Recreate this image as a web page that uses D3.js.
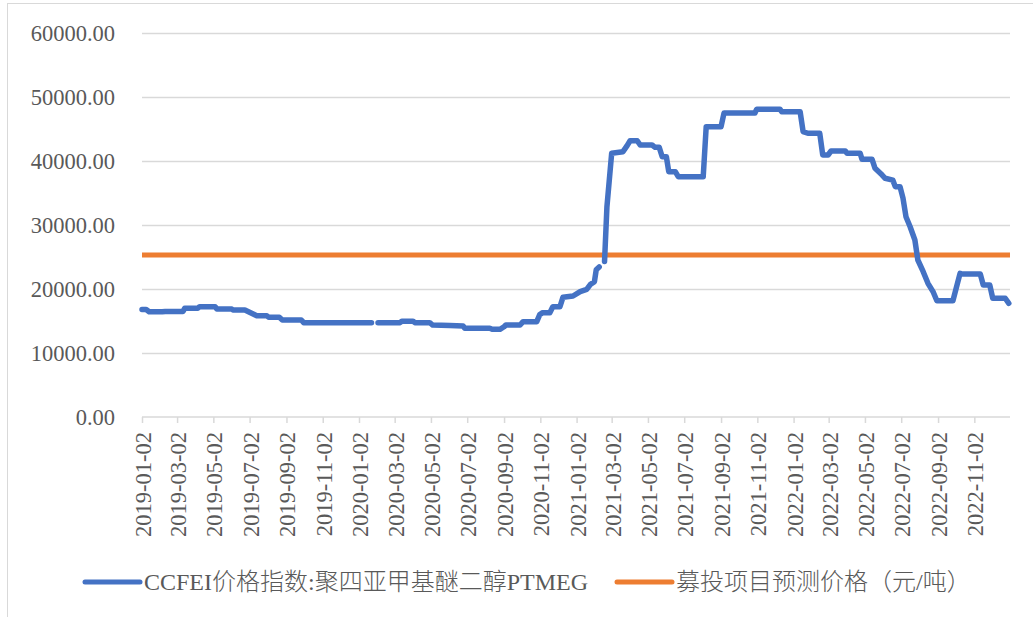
<!DOCTYPE html>
<html>
<head>
<meta charset="utf-8">
<script src="https://cdn.jsdelivr.net/npm/d3@7"></script>
<style>
  body { margin: 0; background: #fff; }
  svg text { font-family: "Liberation Serif", "Noto Sans CJK SC", serif; fill: #595959; }
</style>
</head>
<body>
<div id="chart"></div>
<script>
// PTMEG price index (step points, null = no quote)
var ptmegDates = [
  "2019-01-02","2019-01-09","2019-01-14","2019-02-05","2019-02-10","2019-03-12","2019-03-15","2019-04-06",
  "2019-04-09","2019-05-05","2019-05-08","2019-06-02","2019-06-04","2019-06-24","2019-07-14","2019-07-31",
  "2019-08-03","2019-08-21","2019-08-26","2019-09-27","2019-10-01","2020-01-23","2020-01-28","2020-02-03",
  "2020-03-11","2020-03-14","2020-04-02","2020-04-05","2020-04-30","2020-05-05","2020-06-03","2020-06-25",
  "2020-06-28","2020-08-09","2020-08-13","2020-08-26","2020-09-02","2020-09-05","2020-09-29","2020-10-04",
  "2020-10-27","2020-11-01","2020-11-06","2020-11-18","2020-11-23","2020-12-05","2020-12-10","2020-12-27",
  "2021-01-08","2021-01-19","2021-01-25","2021-02-01","2021-02-04","2021-02-09","2021-02-13","2021-02-18",
  "2021-02-22","2021-03-02","2021-03-21","2021-03-28","2021-04-02","2021-04-14","2021-04-19","2021-05-09",
  "2021-05-14","2021-05-21","2021-05-26","2021-06-02","2021-06-06","2021-06-17","2021-06-22","2021-08-03",
  "2021-08-08","2021-09-02","2021-09-07","2021-10-29","2021-11-01","2021-12-10","2021-12-13","2022-01-13",
  "2022-01-18","2022-01-26","2022-02-15","2022-02-20","2022-03-01","2022-03-06","2022-03-30","2022-04-02",
  "2022-04-24","2022-04-27","2022-05-14","2022-05-19","2022-05-31","2022-06-05","2022-06-18","2022-06-22",
  "2022-06-30","2022-07-05","2022-07-10","2022-07-17","2022-07-25","2022-07-30","2022-08-08","2022-08-16",
  "2022-08-25","2022-08-31","2022-09-27","2022-10-09","2022-10-12","2022-11-12","2022-11-17","2022-11-28",
  "2022-12-03","2022-12-24","2022-12-30"
];
var ptmegValues = [
  16800,16800,16450,16450,16500,16500,17000,17000,
  17230,17230,16880,16880,16720,16720,15830,15830,
  15580,15580,15160,15160,14740,14740,null,14740,
  14740,14950,14950,14740,14740,14370,14300,14220,
  13860,13860,13700,13700,14100,14380,14380,14900,
  14900,16000,16300,16300,17230,17230,18700,18900,
  19600,19950,20700,21150,23000,23440,null,24300,
  32800,41200,41460,42400,43170,43170,42500,42500,
  42140,42140,40670,40670,38330,38330,37550,37550,
  45360,45360,47500,47500,48100,48100,47700,47700,
  44600,44330,44330,40940,40940,41560,41560,41200,
  41200,40260,40260,38860,37800,37300,37000,35990,
  35990,34200,31300,29730,27660,24530,22700,20890,
  19500,18170,18170,22450,22340,22340,20620,20620,
  18550,18550,17760
];
var forecastPrice = 25300;

var yTicks = [0, 10000, 20000, 30000, 40000, 50000, 60000];
var xTickLabels = [
  "2019-01-02","2019-03-02","2019-05-02","2019-07-02","2019-09-02","2019-11-02",
  "2020-01-02","2020-03-02","2020-05-02","2020-07-02","2020-09-02","2020-11-02",
  "2021-01-02","2021-03-02","2021-05-02","2021-07-02","2021-09-02","2021-11-02",
  "2022-01-02","2022-03-02","2022-05-02","2022-07-02","2022-09-02","2022-11-02"
];
var seriesNames = ["CCFEI价格指数:聚四亚甲基醚二醇PTMEG", "募投项目预测价格（元/吨）"];
var seriesColors = ["#4472C4", "#ED7D31"];

var width = 1033, height = 617;
var parse = d3.timeParse("%Y-%m-%d");

var svg = d3.select("#chart").append("svg")
  .attr("width", width)
  .attr("height", height);

// chart frame
svg.append("rect")
  .attr("x", 7.5).attr("y", 3.5)
  .attr("width", 1040).attr("height", 640)
  .attr("fill", "none")
  .attr("stroke", "#d9d9d9");

var x = d3.scaleTime()
  .domain([parse("2019-01-02"), parse("2023-01-01")])
  .range([142, 1010]);
var y = d3.scaleLinear()
  .domain([0, 60000])
  .range([417, 33]);

// grid lines + y labels
var yAxis = svg.append("g")
  .attr("transform", "translate(142,0)")
  .call(d3.axisLeft(y).tickValues(yTicks).tickFormat(d3.format(".2f"))
    .tickSize(-868).tickPadding(27));
yAxis.select(".domain").remove();
yAxis.selectAll(".tick line")
  .attr("stroke", "#d9d9d9")
  .attr("stroke-width", 1.5)
  .filter(d => d === 0).remove();
yAxis.selectAll(".tick text")
  .attr("font-size", 22.5)
  .style("font-family", '"Liberation Serif", serif');

// x axis
var xAxis = svg.append("g")
  .attr("transform", "translate(0,417)")
  .call(d3.axisBottom(x).tickValues(xTickLabels.map(parse)).tickSize(6).tickFormat(""));
xAxis.select(".domain").attr("stroke", "#d9d9d9").attr("stroke-width", 1.5)
  .attr("d", "M142,0H1010");
xAxis.selectAll(".tick line").attr("stroke", "#d9d9d9").attr("stroke-width", 1.5);

svg.append("g").selectAll("text")
  .data(xTickLabels)
  .join("text")
  .attr("transform", d => `translate(${x(parse(d))},432) rotate(-90)`)
  .attr("text-anchor", "end")
  .attr("dy", "0.4em")
  .attr("font-size", 22.5)
  .text(d => d);

// forecast price line
svg.append("line")
  .attr("x1", x.range()[0]).attr("x2", x.range()[1])
  .attr("y1", y(forecastPrice)).attr("y2", y(forecastPrice))
  .attr("stroke", seriesColors[1])
  .attr("stroke-width", 5);

// PTMEG series
var series = ptmegDates.map((d, i) => ({ date: parse(d), value: ptmegValues[i] }));
var line = d3.line()
  .defined(d => d.value != null)
  .x(d => x(d.date))
  .y(d => y(d.value));

svg.append("path")
  .datum(series)
  .attr("fill", "none")
  .attr("stroke", seriesColors[0])
  .attr("stroke-width", 5.5)
  .attr("stroke-linejoin", "round")
  .attr("stroke-linecap", "round")
  .attr("d", line);

// legend
var legendX = [85, 617];
var legend = svg.append("g").selectAll("g")
  .data(seriesNames)
  .join("g")
  .attr("transform", (d, i) => `translate(${legendX[i]},582)`);
legend.append("line")
  .attr("x1", 0).attr("x2", 55)
  .attr("stroke", (d, i) => seriesColors[i])
  .attr("stroke-width", 5)
  .attr("stroke-linecap", "round");
legend.append("text")
  .attr("x", 59)
  .attr("dy", "0.34em")
  .attr("font-size", 24)
  .attr("font-weight", 300)
  .text(d => d);
</script>
</body>
</html>
